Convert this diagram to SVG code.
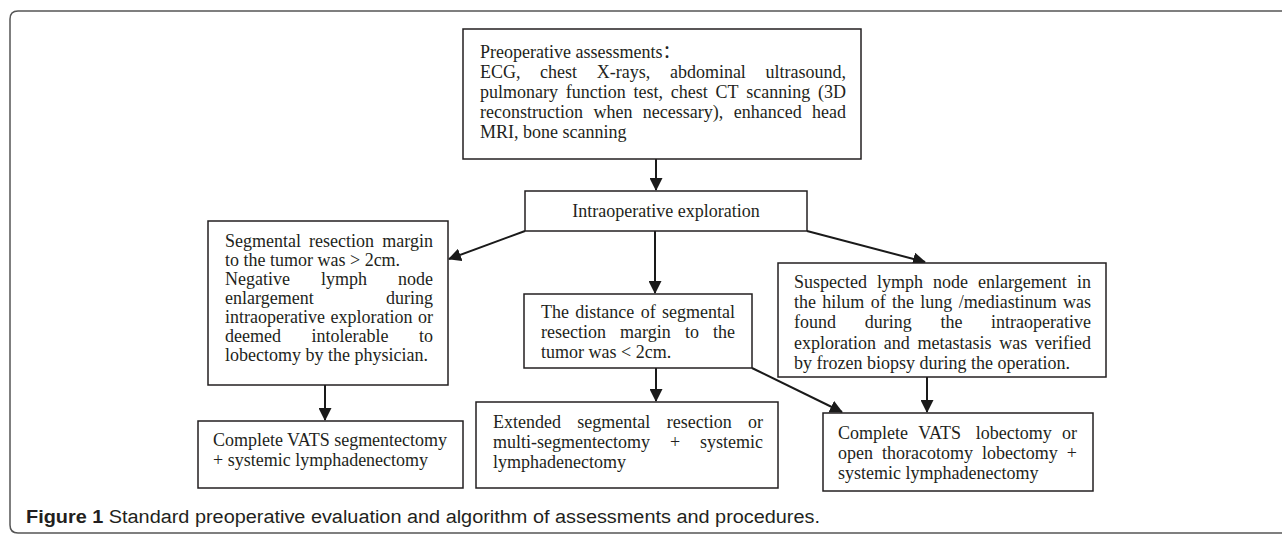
<svg xmlns="http://www.w3.org/2000/svg" width="1282" height="534" viewBox="0 0 1282 534">
<style>
.box{fill:#fff;stroke:#231f20;stroke-width:1.5}
.t{font-family:"Liberation Serif","Times New Roman","Noto Sans CJK SC",serif;font-size:18px;fill:#231f20}
.e{text-anchor:end}
.c{text-anchor:middle}
.cn{fill:none;stroke:#1a1a1a;stroke-width:2}
.cap{font-family:"Liberation Sans",Arial,sans-serif;font-size:18px;fill:#231f20}
</style>
<defs>
<marker id="ah" markerUnits="userSpaceOnUse" markerWidth="13" markerHeight="13" refX="12" refY="6.5" orient="auto">
<path d="M0,0 L13,6.5 L0,13 Z" fill="#1a1a1a"/>
</marker>
</defs>
<rect width="1282" height="534" fill="#fff"/>
<path d="M1282,11 H18 Q10,11 10,19 V525 Q10,533 18,533 H1282" fill="none" stroke="#555" stroke-width="1.5"/>

<g id="connectors">
<line class="cn" x1="656" y1="159" x2="656" y2="190" marker-end="url(#ah)"/>
<line class="cn" x1="525" y1="231" x2="449" y2="259" marker-end="url(#ah)"/>
<line class="cn" x1="655" y1="231" x2="655" y2="293" marker-end="url(#ah)"/>
<line class="cn" x1="807" y1="231" x2="925" y2="262" marker-end="url(#ah)"/>
<line class="cn" x1="325" y1="385" x2="325" y2="420" marker-end="url(#ah)"/>
<line class="cn" x1="656" y1="368" x2="656" y2="401" marker-end="url(#ah)"/>
<line class="cn" x1="752" y1="368" x2="842" y2="412" marker-end="url(#ah)"/>
<line class="cn" x1="927" y1="377" x2="927" y2="412" marker-end="url(#ah)"/>
</g>

<g id="preop">
<rect class="box" x="463" y="29" width="398" height="130"/>
<text class="t" x="480" y="58">Preoperative assessments：</text>
<text class="t" y="78"><tspan x="480">ECG,</tspan><tspan x="540.1">chest</tspan><tspan x="596.8">X-rays,</tspan><tspan x="669.9">abdominal</tspan></text>
<text class="t e" x="846" y="78">ultrasound,</text>
<text class="t" y="98"><tspan x="480">pulmonary</tspan><tspan x="565.8">function</tspan><tspan x="633.5">test,</tspan><tspan x="670.8">chest</tspan><tspan x="715.5">CT</tspan><tspan x="746.3">scanning</tspan></text>
<text class="t e" x="846" y="98">(3D</text>
<text class="t" y="118"><tspan x="480">reconstruction</tspan><tspan x="593.4">when</tspan><tspan x="642.8">necessary),</tspan><tspan x="733.7">enhanced</tspan></text>
<text class="t e" x="846" y="118">head</text>
<text class="t" x="480" y="138">MRI, bone scanning</text>
</g>

<g id="intraop">
<rect class="box" x="525" y="191" width="282" height="40"/>
<text class="t c" x="666" y="217">Intraoperative exploration</text>
</g>

<g id="margin-gt">
<rect class="box" x="208" y="221" width="240" height="164"/>
<text class="t" y="247"><tspan x="225">Segmental</tspan><tspan x="309">resection</tspan></text>
<text class="t e" x="433" y="247">margin</text>
<text class="t" x="225" y="266">to the tumor was &gt; 2cm.</text>
<text class="t" y="285"><tspan x="225">Negative</tspan><tspan x="321">lymph</tspan></text>
<text class="t e" x="433" y="285">node</text>
<text class="t" x="225" y="304">enlargement</text>
<text class="t e" x="433" y="304">during</text>
<text class="t" y="323"><tspan x="225">intraoperative</tspan><tspan x="330.5">exploration</tspan></text>
<text class="t e" x="433" y="323">or</text>
<text class="t" y="342"><tspan x="225">deemed</tspan><tspan x="311.5">intolerable</tspan></text>
<text class="t e" x="433" y="342">to</text>
<text class="t" x="225" y="361">lobectomy by the physician.</text>
</g>

<g id="margin-lt">
<rect class="box" x="524" y="294" width="228" height="74"/>
<text class="t" y="318"><tspan x="541">The</tspan><tspan x="575.3">distance</tspan><tspan x="640.7">of</tspan></text>
<text class="t e" x="735" y="318">segmental</text>
<text class="t" y="338"><tspan x="541">resection</tspan><tspan x="620">margin</tspan><tspan x="685">to</tspan></text>
<text class="t e" x="735" y="338">the</text>
<text class="t" x="541" y="358">tumor was &lt; 2cm.</text>
</g>

<g id="suspected">
<rect class="box" x="778" y="263" width="328" height="114"/>
<text class="t" y="288"><tspan x="794">Suspected</tspan><tspan x="877">lymph</tspan><tspan x="933">node</tspan><tspan x="978">enlargement</tspan></text>
<text class="t e" x="1091" y="288">in</text>
<text class="t" y="308"><tspan x="794">the</tspan><tspan x="822.3">hilum</tspan><tspan x="870.7">of</tspan><tspan x="892">the</tspan><tspan x="920.3">lung</tspan><tspan x="958.7">/mediastinum</tspan></text>
<text class="t e" x="1091" y="308">was</text>
<text class="t" y="328"><tspan x="794">found</tspan><tspan x="864.7">during</tspan><tspan x="940.4">the</tspan></text>
<text class="t e" x="1091" y="328">intraoperative</text>
<text class="t" y="349"><tspan x="794">exploration</tspan><tspan x="883.8">and</tspan><tspan x="917.5">metastasis</tspan><tspan x="999.3">was</tspan></text>
<text class="t e" x="1091" y="349">verified</text>
<text class="t" x="794" y="369">by frozen biopsy during the operation.</text>
</g>

<g id="segmentectomy">
<rect class="box" x="198" y="421" width="265" height="67"/>
<text class="t" x="213" y="446" textLength="234" lengthAdjust="spacing">Complete VATS segmentectomy</text>
<text class="t" x="213" y="466">+ systemic lymphadenectomy</text>
</g>

<g id="extended">
<rect class="box" x="476" y="402" width="302" height="86"/>
<text class="t" y="428"><tspan x="493">Extended</tspan><tspan x="577.3">segmental</tspan><tspan x="666.7">resection</tspan></text>
<text class="t e" x="763" y="428">or</text>
<text class="t" y="448"><tspan x="493">multi-segmentectomy</tspan><tspan x="669.9">+</tspan></text>
<text class="t e" x="763" y="448">systemic</text>
<text class="t" x="493" y="468">lymphadenectomy</text>
</g>

<g id="lobectomy">
<rect class="box" x="823" y="413" width="270" height="78"/>
<text class="t" y="439"><tspan x="838">Complete</tspan><tspan x="918.3">VATS</tspan><tspan x="975.7">lobectomy</tspan></text>
<text class="t e" x="1077" y="439">or</text>
<text class="t" y="459"><tspan x="838">open</tspan><tspan x="882">thoracotomy</tspan><tspan x="981.9">lobectomy</tspan></text>
<text class="t e" x="1077" y="459">+</text>
<text class="t" x="838" y="479">systemic lymphadenectomy</text>
</g>

<text class="cap" x="26" y="523" textLength="794" lengthAdjust="spacingAndGlyphs"><tspan font-weight="bold">Figure 1</tspan> Standard preoperative evaluation and algorithm of assessments and procedures.</text>
</svg>
